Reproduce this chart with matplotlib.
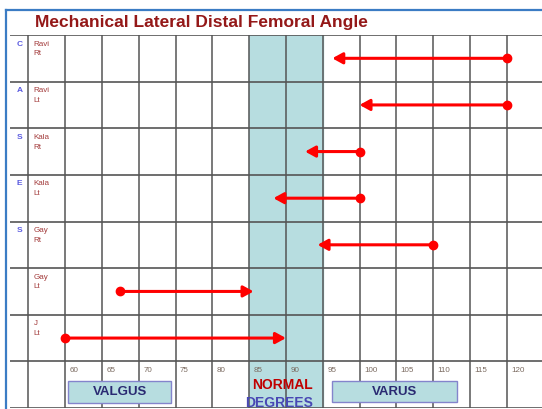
import matplotlib
matplotlib.use("Agg")
import matplotlib.pyplot as plt
from matplotlib.lines import Line2D
from matplotlib.patches import Rectangle

plt.rcParams['font.family'] = ['Liberation Sans', 'DejaVu Sans']

# data
cases = ['Ravi\nRt', 'Ravi\nLt', 'Kala\nRt', 'Kala\nLt', 'Gay\nRt', 'Gay\nLt', 'J\nLt']
start_angle = [120, 120, 100, 100, 110, 67.5, 60]
end_angle = [96.3, 100, 92.6, 88.3, 94.3, 85.6, 90]
side_letters = ['C', 'A', 'S', 'E', 'S']
tick_values = list(range(60, 125, 5))
normal_range = (85, 95)

grid_col = '#555555'
teal = '#b7dde0'

fig = plt.figure(figsize=(5.42, 4.09), dpi=100)
W, H = 542, 409

# blue slide frame
fig.add_artist(Line2D([6 / W, 6 / W], [0, 1 - 10 / H], color='#3b7cc4', lw=1.6))
fig.add_artist(Line2D([6 / W, 1], [1 - 10 / H, 1 - 10 / H], color='#3b7cc4', lw=1.6))

fig.text(201 / W, 1 - 22 / H, 'Mechanical Lateral Distal Femoral Angle',
         ha='center', va='center', fontsize=12.5, fontweight='bold', color='#941818')

ax = fig.add_axes([10 / W, 1 / H, 532 / W, 373 / H])
ax.set_xlim(52.5, 124.8)
ax.set_ylim(8, 0)
ax.axis('off')

nrows = len(cases)

# normal zone
ax.axvspan(normal_range[0], normal_range[1], color=teal, zorder=0)

# grid
for v in [55] + tick_values:
    ax.axvline(v, color=grid_col, lw=1.1, zorder=1)
for r in range(nrows + 2):
    ax.axhline(r, color=grid_col, lw=1.2, zorder=1)

# row labels
for i, name in enumerate(cases):
    ax.text(55.7, i + 0.12, name, ha='left', va='top', fontsize=5.8,
            color='#a33c3c', linespacing=1.55)
for i, ch in enumerate(side_letters):
    ax.text(53.8, i + 0.12, ch, ha='center', va='top', fontsize=6,
            fontweight='bold', color='#5a5ae0')

# arrows
for i, (s, e) in enumerate(zip(start_angle, end_angle)):
    y = i + 0.5
    ax.annotate('', xy=(e, y), xytext=(s, y),
                arrowprops=dict(arrowstyle='-|>,head_length=0.4,head_width=0.22',
                                color='#ff0000', lw=2.2, mutation_scale=15,
                                shrinkA=0, shrinkB=0), zorder=3)
    ax.plot(s, y, 'o', color='#ff0000', ms=6, zorder=4)

# tick labels
for v in tick_values:
    ax.text(v + 0.6, nrows + 0.19, str(v), ha='left', va='center',
            fontsize=5.8, color='#7a6a60')

# bottom captions
ax.add_patch(Rectangle((60.4, nrows + 0.42), 14.0, 0.47, facecolor=teal,
                       edgecolor='#8484cc', lw=1.0, zorder=2))
ax.text(67.4, nrows + 0.66, 'VALGUS', ha='center', va='center', fontsize=9.5,
        fontweight='bold', color='#2a2a72', zorder=3)
ax.add_patch(Rectangle((96.2, nrows + 0.42), 17.1, 0.45, facecolor=teal,
                       edgecolor='#8484cc', lw=1.0, zorder=2))
ax.text(104.75, nrows + 0.65, 'VARUS', ha='center', va='center', fontsize=9.5,
        fontweight='bold', color='#2a2a72', zorder=3)
ax.text(89.5, nrows + 0.5, 'NORMAL', ha='center', va='center', fontsize=10,
        fontweight='bold', color='#c00000', zorder=3)
ax.text(89.1, nrows + 0.9, 'DEGREES', ha='center', va='center', fontsize=10,
        fontweight='bold', color='#4848b4', zorder=3)

fig.savefig('out.png', dpi=100)
